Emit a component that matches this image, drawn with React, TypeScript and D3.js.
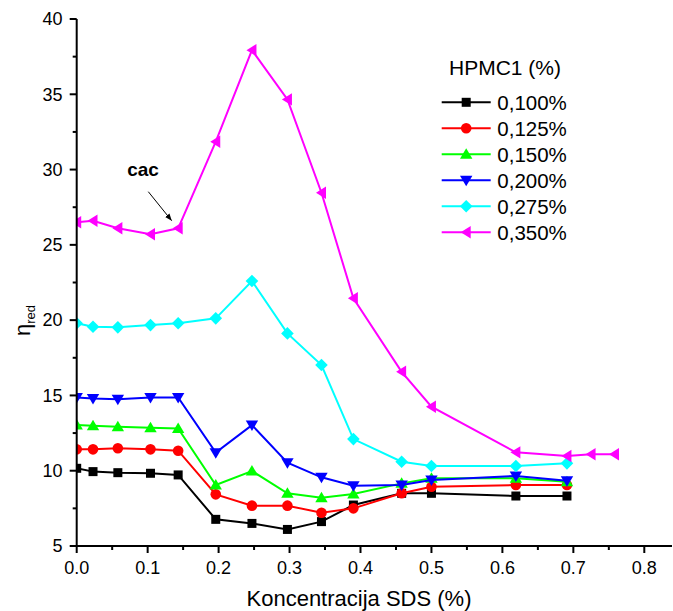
import React from "react";
import * as d3 from "d3";

const xValues = [0, 0.023, 0.058, 0.104, 0.143, 0.196, 0.247, 0.297, 0.345, 0.39, 0.458, 0.5, 0.619, 0.691];
const xValuesLong = [0, 0.023, 0.058, 0.104, 0.143, 0.196, 0.247, 0.297, 0.345, 0.39, 0.458, 0.5, 0.619, 0.691, 0.725, 0.758];

const s100 = [10.16, 9.94, 9.87, 9.83, 9.72, 6.77, 6.5, 6.1, 6.62, 7.72, 8.5, 8.5, 8.32, 8.32];
const s125 = [11.42, 11.42, 11.49, 11.42, 11.33, 8.43, 7.68, 7.68, 7.21, 7.5, 8.5, 8.94, 9.05, 9.05];
const s150 = [13.03, 12.99, 12.92, 12.86, 12.81, 9.05, 9.98, 8.5, 8.21, 8.45, 9.16, 9.5, 9.5, 9.27];
const s200 = [14.87, 14.8, 14.74, 14.87, 14.87, 11.2, 13.03, 10.53, 9.56, 9.0, 9.05, 9.38, 9.65, 9.34];
const s275 = [19.79, 19.56, 19.52, 19.67, 19.79, 20.12, 22.6, 19.12, 17.02, 12.1, 10.6, 10.31, 10.31, 10.49];
const s350 = [26.5, 26.6, 26.1, 25.7, 26.1, 31.85, 37.93, 34.66, 28.46, 21.45, 16.57, 14.25, 11.22, 10.98, 11.09, 11.09];

const seriesLabels = ["0,100%", "0,125%", "0,150%", "0,200%", "0,275%", "0,350%"];
const seriesColors = ["#000000", "#ff0000", "#00ff00", "#0000ff", "#00ffff", "#ff00ff"];
const seriesShapes = ["square", "circle", "up", "down", "diamond", "left"];
const seriesX = [xValues, xValues, xValues, xValues, xValues, xValuesLong];
const seriesY = [s100, s125, s150, s200, s275, s350];

const xMajorTicks = [0, 0.1, 0.2, 0.3, 0.4, 0.5, 0.6, 0.7, 0.8];
const xMinorTicks = [0.05, 0.15, 0.25, 0.35, 0.45, 0.55, 0.65, 0.75];
const yMajorTicks = [5, 10, 15, 20, 25, 30, 35, 40];
const yMinorTicks = [7.5, 12.5, 17.5, 22.5, 27.5, 32.5, 37.5];

const W = 673;
const H = 611;
const FONT = "'Liberation Sans', Arial, Helvetica, sans-serif";

const x = d3.scaleLinear().domain([0, 0.8]).range([76.7, 644.3]);
const y = d3.scaleLinear().domain([5, 40]).range([546, 19]);
const xAxisEnd = 672;

function Marker({ shape, cx, cy, color }: { shape: string; cx: number; cy: number; color: string }) {
  switch (shape) {
    case "square":
      return <rect x={cx - 4.5} y={cy - 4.5} width={9} height={9} fill={color} />;
    case "circle":
      return <circle cx={cx} cy={cy} r={5.3} fill={color} />;
    case "up":
      return <path d={`M${cx},${cy - 6} L${cx + 6.2},${cy + 4.5} L${cx - 6.2},${cy + 4.5} Z`} fill={color} />;
    case "down":
      return <path d={`M${cx},${cy + 6} L${cx + 6.2},${cy - 4.5} L${cx - 6.2},${cy - 4.5} Z`} fill={color} />;
    case "diamond":
      return <path d={`M${cx},${cy - 6.3} L${cx + 6.3},${cy} L${cx},${cy + 6.3} L${cx - 6.3},${cy} Z`} fill={color} />;
    case "left":
      return <path d={`M${cx - 5.5},${cy} L${cx + 4.5},${cy - 6.2} L${cx + 4.5},${cy + 6.2} Z`} fill={color} />;
    default:
      return null;
  }
}

export default function App() {
  const line = d3
    .line<[number, number]>()
    .x((d) => x(d[0]))
    .y((d) => y(d[1]));

  const legendX0 = 441.7;
  const legendX1 = 490.7;
  const legendY0 = 102.3;
  const legendDy = 26;

  return (
    <svg
      width={W}
      height={H}
      style={{ position: "absolute", left: 0, top: 0, background: "#fff" }}
      fontFamily={FONT}
    >
      <defs>
        <clipPath id="plotClip">
          <rect x={x(0)} y={0} width={W - x(0)} height={y(5) + 2} />
        </clipPath>
        <marker id="arrowHead" viewBox="0 0 10 10" refX="10" refY="5" markerWidth="7" markerHeight="7" orient="auto-start-reverse" markerUnits="userSpaceOnUse">
          <path d="M0,1 L10,5 L0,9 Z" fill="#000" />
        </marker>
      </defs>

      {/* series */}
      <g clipPath="url(#plotClip)">
        {seriesY.map((vals, i) => {
          const pts: [number, number][] = vals.map((v, j) => [seriesX[i][j], v]);
          return (
            <g key={i}>
              <path d={line(pts) || ""} fill="none" stroke={seriesColors[i]} strokeWidth={2} />
              {pts.map((p, j) => (
                <Marker key={j} shape={seriesShapes[i]} cx={x(p[0])} cy={y(p[1])} color={seriesColors[i]} />
              ))}
            </g>
          );
        })}
      </g>

      {/* axes */}
      <g stroke="#000" strokeWidth={2}>
        <line x1={x(0)} y1={y(5)} x2={xAxisEnd} y2={y(5)} />
        <line x1={x(0)} y1={y(5) + 1} x2={x(0)} y2={y(40)} />
        {xMajorTicks.map((t) => (
          <line key={"xM" + t} x1={x(t)} x2={x(t)} y1={y(5)} y2={y(5) + 7} />
        ))}
        {xMinorTicks.map((t) => (
          <line key={"xm" + t} x1={x(t)} x2={x(t)} y1={y(5)} y2={y(5) + 4} />
        ))}
        {yMajorTicks.map((t) => (
          <line key={"yM" + t} x1={x(0)} x2={x(0) - 7} y1={y(t)} y2={y(t)} />
        ))}
        {yMinorTicks.map((t) => (
          <line key={"ym" + t} x1={x(0)} x2={x(0) - 4} y1={y(t)} y2={y(t)} />
        ))}
      </g>
      <g fontSize={18} fill="#000">
        {xMajorTicks.map((t) => (
          <text key={"xl" + t} x={x(t)} y={574} textAnchor="middle">
            {d3.format(".1f")(t)}
          </text>
        ))}
        {yMajorTicks.map((t) => (
          <text key={"yl" + t} x={62.5} y={y(t)} dy="0.35em" textAnchor="end">
            {t}
          </text>
        ))}
      </g>

      {/* axis titles */}
      <text x={359} y={606} textAnchor="middle" fontSize={22} fill="#000">
        Koncentracija SDS (%)
      </text>
      <text transform={`translate(30, 336) rotate(-90)`} fontSize={22} fill="#000">
        η<tspan fontSize={13} dy={5}>red</tspan>
      </text>

      {/* annotation */}
      <text x={143} y={176} textAnchor="middle" fontSize={19} fontWeight="bold" fill="#000">
        cac
      </text>
      <line x1={148.3} y1={191.7} x2={171.7} y2={220.7} stroke="#000" strokeWidth={1} markerEnd="url(#arrowHead)" />

      {/* legend */}
      <text x={505} y={74.5} textAnchor="middle" fontSize={21} fill="#000">
        HPMC1 (%)
      </text>
      {seriesLabels.map((lab, i) => {
        const ly = legendY0 + i * legendDy;
        return (
          <g key={lab}>
            <line x1={legendX0} x2={legendX1} y1={ly} y2={ly} stroke={seriesColors[i]} strokeWidth={2} />
            <Marker shape={seriesShapes[i]} cx={(legendX0 + legendX1) / 2} cy={ly} color={seriesColors[i]} />
            <text x={497.3} y={ly} dy="0.36em" fontSize={20.5} fill="#000">
              {lab}
            </text>
          </g>
        );
      })}
    </svg>
  );
}
